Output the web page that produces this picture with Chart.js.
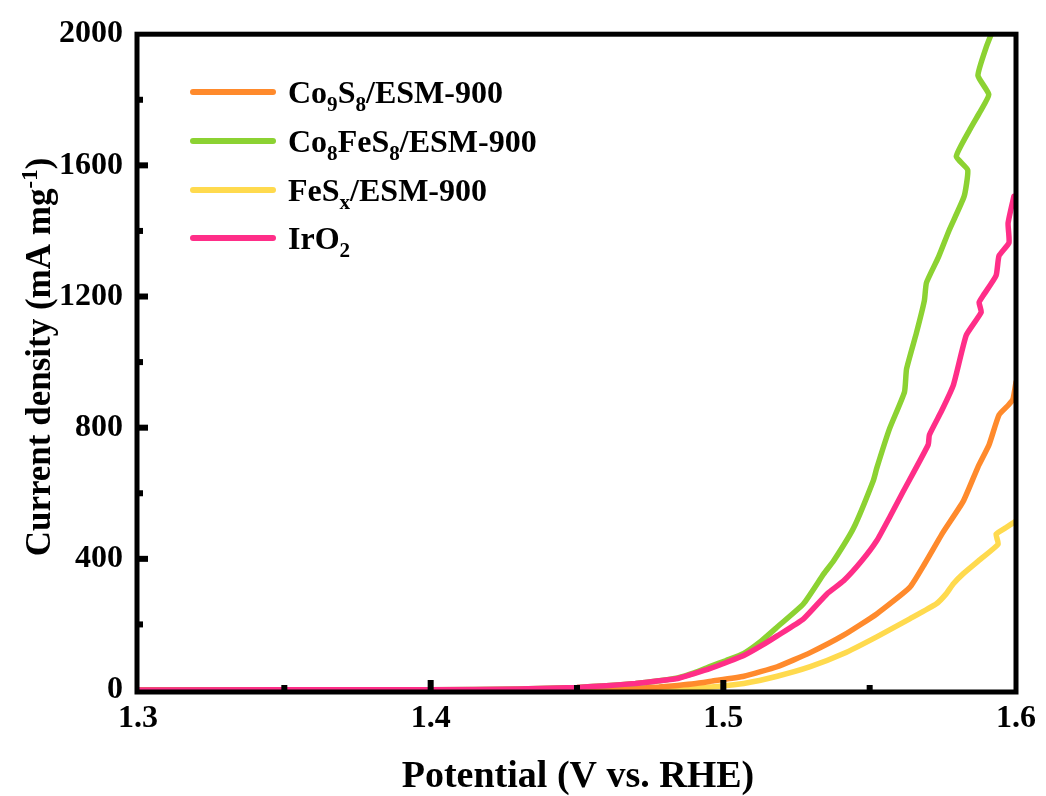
<!DOCTYPE html>
<html>
<head>
<meta charset="utf-8">
<script src="https://cdn.jsdelivr.net/npm/chart.js@4/dist/chart.umd.min.js"></script>
<style>
  html, body { margin: 0; padding: 0; background: #fff; }
  #wrap { width: 1046px; height: 796px; }
</style>
</head>
<body>
<div id="wrap"><canvas id="c" width="1046" height="796"></canvas></div>
<script>
// LSV polarisation curves, mass activity vs potential
const xTicks = [1.3, 1.4, 1.5, 1.6];
const yTicks = [0, 400, 800, 1200, 1600, 2000];

const potentialCo9S8 = [1.30, 1.40, 1.44, 1.46, 1.47, 1.478, 1.4844, 1.4900, 1.4960, 1.5070, 1.5184, 1.5297, 1.5411, 1.5524, 1.5637, 1.5688, 1.5750, 1.5820, 1.5870, 1.5908, 1.5942, 1.5975, 1.5990, 1.6000];
const currentCo9S8   = [0, 0, 1, 3, 5, 9, 14, 19, 27, 42, 71, 114, 167, 232, 313, 385, 480, 576, 680, 748, 839, 870, 888, 939];

const potentialCo8FeS8 = [1.30, 1.40, 1.43, 1.45, 1.46, 1.47, 1.478, 1.4844, 1.4900, 1.4956, 1.5010, 1.5070, 1.5130, 1.5184, 1.5274, 1.5343, 1.5377, 1.5445, 1.5513, 1.5524, 1.5568, 1.5619, 1.5626, 1.5660, 1.5687, 1.5694, 1.5735, 1.5772, 1.5823, 1.5835, 1.5796, 1.5841, 1.5875, 1.5907, 1.5870, 1.5898, 1.5920];
const currentCo8FeS8   = [0, 1, 3, 8, 13, 20, 28, 37, 52, 72, 90, 112, 150, 192, 263, 354, 394, 494, 640, 676, 797, 909, 979, 1090, 1188, 1242, 1320, 1403, 1506, 1586, 1627, 1707, 1760, 1816, 1874, 1960, 2010];

const potentialFeSx = [1.30, 1.45, 1.47, 1.48, 1.4900, 1.4980, 1.5070, 1.5184, 1.5297, 1.5411, 1.5524, 1.5637, 1.5728, 1.5762, 1.5786, 1.5820, 1.5880, 1.5939, 1.5932, 1.5965, 1.6000];
const currentFeSx   = [0, 0, 2, 4, 6, 11, 20, 42, 71, 111, 162, 217, 263, 294, 324, 355, 400, 445, 475, 495, 515];

const potentialIrO2 = [1.30, 1.40, 1.43, 1.45, 1.46, 1.47, 1.478, 1.4844, 1.4900, 1.4956, 1.5010, 1.5070, 1.5130, 1.5184, 1.5274, 1.5354, 1.5411, 1.5473, 1.5524, 1.5570, 1.5615, 1.5700, 1.5704, 1.5745, 1.5786, 1.5830, 1.5881, 1.5874, 1.5888, 1.5932, 1.5942, 1.5976, 1.5973, 1.5993];
const currentIrO2   = [0, 1, 3, 8, 13, 20, 28, 35, 50, 66, 84, 105, 135, 165, 217, 293, 333, 394, 455, 530, 606, 748, 778, 850, 930, 1082, 1152, 1182, 1203, 1264, 1324, 1364, 1424, 1506];

// Legend names as rich-text runs: [text, "sub"|"sup"|""]
const nameCo9S8   = [["Co", ""], ["9", "sub"], ["S", ""], ["8", "sub"], ["/ESM-900", ""]];
const nameCo8FeS8 = [["Co", ""], ["8", "sub"], ["FeS", ""], ["8", "sub"], ["/ESM-900", ""]];
const nameFeSx    = [["FeS", ""], ["x", "sub"], ["/ESM-900", ""]];
const nameIrO2    = [["IrO", ""], ["2", "sub"]];

const xTitle = [["Potential (V vs. RHE)", ""]];
const yTitle = [["Current density (mA mg", ""], ["-1", "sup"], [")", ""]];

const colors = { orange: "#FF8A2C", green: "#8CD232", yellow: "#FFDA4E", pink: "#FF2E88" };
const FONT = "'Liberation Serif', 'Times New Roman', serif";

function zip(xs, ys) { return xs.map((x, i) => ({ x: x, y: ys[i] })); }

const seriesList = [
  { name: nameCo9S8,   xs: potentialCo9S8,   ys: currentCo9S8,   color: colors.orange, order: 2 },
  { name: nameCo8FeS8, xs: potentialCo8FeS8, ys: currentCo8FeS8, color: colors.green,  order: 1 },
  { name: nameFeSx,    xs: potentialFeSx,    ys: currentFeSx,    color: colors.yellow, order: 3 },
  { name: nameIrO2,    xs: potentialIrO2,    ys: currentIrO2,    color: colors.pink,   order: 0 }
];

function richWidth(ctx, runs, size) {
  let w = 0;
  for (const [t, kind] of runs) {
    const s = kind ? size * 0.66 : size;
    ctx.font = "bold " + s + "px " + FONT;
    w += ctx.measureText(t).width;
  }
  return w;
}
function drawRich(ctx, runs, x, y, size) {
  let cx = x;
  ctx.textAlign = "left";
  ctx.textBaseline = "alphabetic";
  for (const [t, kind] of runs) {
    const s = kind ? size * 0.66 : size;
    ctx.font = "bold " + s + "px " + FONT;
    let dy = 0;
    if (kind === "sub") dy = size * 0.24;
    if (kind === "sup") dy = -size * 0.38;
    ctx.fillText(t, cx, y + dy);
    cx += ctx.measureText(t).width;
  }
}

const decorations = {
  id: "decorations",
  afterDatasetsDraw(chart) {
    const ctx = chart.ctx;
    const a = chart.chartArea;
    const xs = chart.scales.x, ys = chart.scales.y;
    ctx.save();
    ctx.fillStyle = "#000";
    // inward ticks, major at labels, minor halfway
    for (let i = 0; i < xTicks.length; i++) {
      const px = xs.getPixelForValue(xTicks[i]);
      if (i > 0 && i < xTicks.length - 1) ctx.fillRect(px - 3, a.bottom - 10, 6, 10);
      if (i < xTicks.length - 1) {
        const pm = xs.getPixelForValue((xTicks[i] + xTicks[i + 1]) / 2);
        ctx.fillRect(pm - 3, a.bottom - 5, 6, 5);
      }
    }
    for (let i = 0; i < yTicks.length; i++) {
      const py = ys.getPixelForValue(yTicks[i]);
      if (i > 0 && i < yTicks.length - 1) ctx.fillRect(a.left, py - 3, 10, 6);
      if (i < yTicks.length - 1) {
        const pm = ys.getPixelForValue((yTicks[i] + yTicks[i + 1]) / 2);
        ctx.fillRect(a.left, pm - 3, 5, 6);
      }
    }
    // frame
    ctx.strokeStyle = "#000";
    ctx.lineWidth = 5;
    ctx.strokeRect(a.left - 1, a.top, a.right - a.left + 1, a.bottom - a.top + 2);

    // legend
    const lx0 = 193, lx1 = 273, tx = 288;
    const rowY = [92, 141, 190, 238];
    seriesList.forEach((s, i) => {
      ctx.strokeStyle = s.color;
      ctx.lineWidth = 6;
      ctx.lineCap = "round";
      ctx.beginPath();
      ctx.moveTo(lx0, rowY[i]);
      ctx.lineTo(lx1, rowY[i]);
      ctx.stroke();
      ctx.fillStyle = "#000";
      drawRich(ctx, s.name, tx, rowY[i] + 11, 32);
    });

    // axis titles
    ctx.fillStyle = "#000";
    const wx = richWidth(ctx, xTitle, 38);
    drawRich(ctx, xTitle, 578 - wx / 2, 787, 38);
    ctx.translate(50, 357);
    ctx.rotate(-Math.PI / 2);
    const wy = richWidth(ctx, yTitle, 35);
    drawRich(ctx, yTitle, -wy / 2, 0, 35);
    ctx.restore();
  }
};

new Chart(document.getElementById("c"), {
  type: "line",
  data: {
    datasets: seriesList.map(s => ({
      label: s.name.map(r => r[0]).join(""),
      data: zip(s.xs, s.ys),
      borderColor: s.color,
      backgroundColor: s.color,
      borderWidth: 5.5,
      pointRadius: 0,
      tension: 0.15,
      order: s.order,
      borderJoinStyle: "round",
      borderCapStyle: "round"
    }))
  },
  options: {
    responsive: false,
    animation: false,
    events: [],
    layout: { padding: { left: 0, top: 30, right: 26, bottom: 0 } },
    plugins: { legend: { display: false }, tooltip: { enabled: false }, title: { display: false } },
    scales: {
      x: {
        type: "linear",
        min: 1.3, max: 1.6,
        afterFit(scale) { scale.height = 106; },
        afterBuildTicks(scale) { scale.ticks = xTicks.map(v => ({ value: v })); },
        grid: { display: false, drawTicks: false },
        border: { display: false },
        ticks: {
          padding: 10,
          color: "#000",
          font: { family: FONT, size: 32, weight: "bold" },
          callback: v => Number(v).toFixed(1)
        }
      },
      y: {
        type: "linear",
        min: 0, max: 2000,
        afterFit(scale) { scale.width = 138; },
        afterBuildTicks(scale) { scale.ticks = yTicks.map(v => ({ value: v })); },
        grid: { display: false, drawTicks: false },
        border: { display: false },
        ticks: {
          padding: 15,
          color: "#000",
          font: { family: FONT, size: 32, weight: "bold" },
          callback: v => String(v)
        }
      }
    }
  },
  plugins: [decorations]
});
</script>
</body>
</html>
